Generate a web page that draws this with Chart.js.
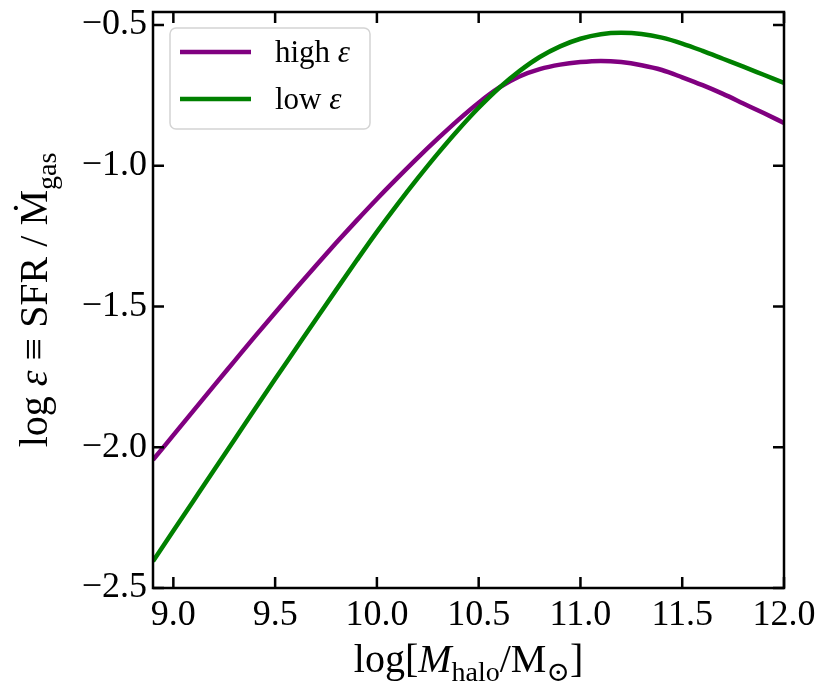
<!DOCTYPE html>
<html>
<head>
<meta charset="utf-8">
<script src="https://cdn.jsdelivr.net/npm/chart.js@4.4.0/dist/chart.umd.min.js"></script>
<style>
  html, body { margin: 0; padding: 0; background: #fff; }
  #wrap { width: 830px; height: 699px; }
</style>
</head>
<body>
<div id="wrap"><canvas id="effChart" width="830" height="699"></canvas></div>
<script>
// values
const logMhalo = [8.9, 9.0, 9.1, 9.2, 9.3, 9.4, 9.5, 9.6, 9.7, 9.8, 9.9,
                  10.0, 10.1, 10.2, 10.3, 10.4, 10.5, 10.6, 10.7, 10.8, 10.9,
                  11.0, 11.1, 11.2, 11.3, 11.4, 11.5, 11.6, 11.7, 11.8, 11.9, 12.0];
const highEps = [-2.045, -1.957, -1.869, -1.781, -1.694, -1.607, -1.522, -1.438, -1.355, -1.274, -1.195,
                 -1.118, -1.044, -0.972, -0.903, -0.837, -0.776, -0.723, -0.683, -0.657, -0.641,
                 -0.632, -0.628, -0.632, -0.643, -0.660, -0.686, -0.714, -0.745, -0.779, -0.813, -0.848];
const lowEps = [-2.405, -2.297, -2.189, -2.081, -1.973, -1.865, -1.758, -1.652, -1.546, -1.441, -1.337,
                -1.235, -1.138, -1.045, -0.956, -0.872, -0.794, -0.724, -0.664, -0.614, -0.576,
                -0.549, -0.533, -0.528, -0.532, -0.545, -0.566, -0.592, -0.620, -0.648, -0.677, -0.706];
const xTicks = [9.0, 9.5, 10.0, 10.5, 11.0, 11.5, 12.0];
const yTicks = [-2.5, -2.0, -1.5, -1.0, -0.5];
const seriesNames = ['high ε', 'low ε'];
const seriesColors = ['#800080', '#008000'];

const SERIF = "'Liberation Serif', 'DejaVu Serif', serif";

function toPoints(xs, ys) {
    return xs.map((x, i) => ({ x: x, y: ys[i] }));
}

function fmtTick(v) {
    return v.toFixed(1).replace('-', '\u2212');
}

// draw a row of text pieces (roman / italic / subscript), starting at x
function drawRich(ctx, parts, x, y, size) {
    parts.forEach(p => {
        const s = p.sub ? size * 0.7 : size;
        ctx.font = (p.it ? 'italic ' : '') + s + 'px ' + SERIF;
        ctx.fillText(p.t, x, y + (p.sub ? size * 0.22 : 0));
        x += ctx.measureText(p.t).width;
    });
}

function richWidth(ctx, parts, size) {
    let w = 0;
    parts.forEach(p => {
        const s = p.sub ? size * 0.7 : size;
        ctx.font = (p.it ? 'italic ' : '') + s + 'px ' + SERIF;
        w += ctx.measureText(p.t).width;
    });
    return w;
}

const xTitle = [
    { t: 'log[' }, { t: 'M', it: true }, { t: 'halo', sub: true },
    { t: '/M' }, { t: '\u2299', sub: true }, { t: ']' }
];
const yTitle = [
    { t: 'log ' }, { t: 'ε', it: true }, { t: ' \u2261 SFR / \u1E40' }, { t: 'gas', sub: true }
];

const framePlugin = {
    id: 'frame',
    afterDraw(chart) {
        const { ctx, chartArea: a, scales: { x, y } } = chart;
        ctx.save();

        // box + inward ticks on all four sides
        ctx.strokeStyle = '#000';
        ctx.lineWidth = 2.5;
        ctx.strokeRect(a.left, a.top, a.right - a.left, a.bottom - a.top);
        const len = 11;
        ctx.beginPath();
        xTicks.forEach(v => {
            const px = x.getPixelForValue(v);
            ctx.moveTo(px, a.bottom); ctx.lineTo(px, a.bottom - len);
            ctx.moveTo(px, a.top); ctx.lineTo(px, a.top + len);
        });
        yTicks.forEach(v => {
            const py = y.getPixelForValue(v);
            ctx.moveTo(a.left, py); ctx.lineTo(a.left + len, py);
            ctx.moveTo(a.right, py); ctx.lineTo(a.right - len, py);
        });
        ctx.stroke();

        // legend, upper left inside the axes
        const lx = a.left + 17, ly = a.top + 16, lw = 200, lh = 101;
        ctx.beginPath();
        ctx.roundRect(lx, ly, lw, lh, 6);
        ctx.fillStyle = 'rgba(255,255,255,0.8)';
        ctx.fill();
        ctx.strokeStyle = '#d4d4d4';
        ctx.lineWidth = 1.5;
        ctx.stroke();
        chart.data.datasets.forEach((ds, i) => {
            const yy = ly + 24 + i * 47;
            ctx.strokeStyle = ds.borderColor;
            ctx.lineWidth = 4.5;
            ctx.beginPath();
            ctx.moveTo(lx + 10, yy);
            ctx.lineTo(lx + 81, yy);
            ctx.stroke();
            ctx.fillStyle = '#000';
            ctx.textBaseline = 'middle';
            ctx.textAlign = 'left';
            const name = ds.label;
            drawRich(ctx, [{ t: name.slice(0, -1) }, { t: name.slice(-1), it: true }], lx + 105, yy + 2, 31);
        });

        // axis titles
        ctx.fillStyle = '#000';
        ctx.textBaseline = 'alphabetic';
        ctx.textAlign = 'left';
        const tsize = 40;
        const xw = richWidth(ctx, xTitle, tsize);
        drawRich(ctx, xTitle, (a.left + a.right) / 2 - xw / 2, 672, tsize);

        const yw = richWidth(ctx, yTitle, tsize);
        ctx.translate(47, (a.top + a.bottom) / 2);
        ctx.rotate(-Math.PI / 2);
        drawRich(ctx, yTitle, -yw / 2, 0, tsize);

        ctx.restore();
    }
};

document.addEventListener('DOMContentLoaded', function() {
    const ctx = document.getElementById('effChart');

    new Chart(ctx, {
        type: 'line',
        data: {
            datasets: [
                {
                    label: seriesNames[0],
                    data: toPoints(logMhalo, highEps),
                    borderColor: seriesColors[0],
                    borderWidth: 4.5,
                    pointRadius: 0,
                    cubicInterpolationMode: 'monotone',
                    order: 1
                },
                {
                    label: seriesNames[1],
                    data: toPoints(logMhalo, lowEps),
                    borderColor: seriesColors[1],
                    borderWidth: 4.5,
                    pointRadius: 0,
                    cubicInterpolationMode: 'monotone',
                    order: 0
                }
            ]
        },
        options: {
            responsive: false,
            animation: false,
            devicePixelRatio: 1,
            layout: { padding: { left: 0, top: 12, right: 46, bottom: 0 } },
            plugins: {
                legend: { display: false },
                tooltip: { enabled: false }
            },
            scales: {
                x: {
                    type: 'linear',
                    min: 8.9,
                    max: 12.0,
                    afterBuildTicks: axis => { axis.ticks = xTicks.map(v => ({ value: v })); },
                    afterFit: scale => { scale.height = 111; scale.paddingLeft = 0; scale.paddingRight = 0; },
                    grid: { display: false, drawTicks: false },
                    border: { display: false },
                    ticks: {
                        color: '#000',
                        padding: 6,
                        maxRotation: 0,
                        font: { family: SERIF, size: 36 },
                        callback: v => fmtTick(v)
                    }
                },
                y: {
                    min: -2.5,
                    max: -0.454,
                    afterBuildTicks: axis => { axis.ticks = yTicks.map(v => ({ value: v })); },
                    afterFit: scale => { scale.width = 153; scale.paddingTop = 0; scale.paddingBottom = 0; },
                    grid: { display: false, drawTicks: false },
                    border: { display: false },
                    ticks: {
                        color: '#000',
                        padding: 6,
                        font: { family: SERIF, size: 36 },
                        callback: v => fmtTick(v)
                    }
                }
            }
        },
        plugins: [framePlugin]
    });
});
</script>
</body>
</html>
